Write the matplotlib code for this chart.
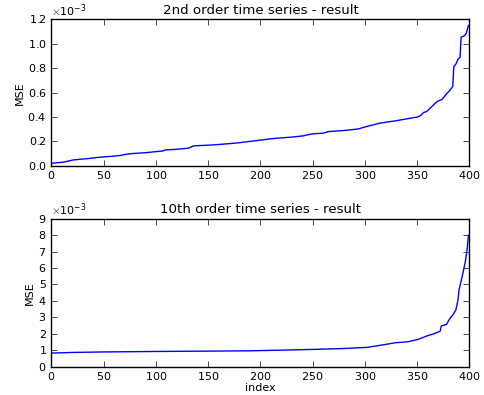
import matplotlib
matplotlib.use("Agg")
import matplotlib.pyplot as plt

# 2nd order time series - sorted MSE (values in units of 1e-3)
idx_2nd = [0, 5, 11, 21, 35, 46, 60, 67, 70, 77, 90, 100, 106, 109, 120, 131,
           136, 155, 170, 180, 196, 212, 230, 241, 249, 260, 265, 280, 294, 299,
           308, 314, 330, 343, 350, 353, 356, 359, 364, 369, 374, 378, 381, 384,
           385, 387, 389, 391, 392, 395, 397, 398, 399]
mse_2nd = [0.022, 0.025, 0.030, 0.049, 0.060, 0.071, 0.080, 0.087, 0.093, 0.101,
           0.108, 0.117, 0.121, 0.131, 0.136, 0.145, 0.164, 0.172, 0.182, 0.190,
           0.207, 0.224, 0.236, 0.246, 0.262, 0.268, 0.281, 0.290, 0.303, 0.317,
           0.336, 0.350, 0.370, 0.390, 0.400, 0.410, 0.437, 0.445, 0.486, 0.527,
           0.546, 0.590, 0.617, 0.650, 0.813, 0.833, 0.874, 0.890, 1.054, 1.065,
           1.087, 1.120, 1.149]

# 10th order time series - sorted MSE (values in units of 1e-3)
idx_10th = [0, 20, 50, 100, 150, 190, 220, 254, 280, 302, 318, 329, 341, 351,
            359, 367, 372, 373, 378, 381, 384, 387, 389, 390, 392, 394, 396,
            397, 398, 399]
mse_10th = [0.82, 0.86, 0.89, 0.92, 0.94, 0.96, 1.00, 1.05, 1.10, 1.17, 1.33,
            1.45, 1.51, 1.66, 1.86, 2.02, 2.16, 2.47, 2.57, 2.90, 3.14, 3.45,
            4.05, 4.66, 5.21, 5.78, 6.39, 6.80, 7.30, 8.00]

plt.style.use("classic")
plt.rcParams["font.family"] = "DejaVu Sans"
plt.rcParams["font.size"] = 8
plt.rcParams["axes.titlesize"] = 9.6
plt.rcParams["axes.formatter.use_mathtext"] = True
plt.rcParams["axes.formatter.limits"] = (-2, 4)
plt.rcParams["xtick.major.pad"] = 2.5
plt.rcParams["ytick.major.pad"] = 3.5

fig = plt.figure(figsize=(4.85, 3.95), dpi=100, facecolor="white")

ax1 = fig.add_axes([0.106, 0.580, 0.862, 0.371])
ax1.plot(idx_2nd, [v * 1e-3 for v in mse_2nd], color="blue", linewidth=1)
ax1.set_xlim(0, 400)
ax1.set_ylim(0, 1.2e-3)
ax1.set_title("2nd order time series - result", pad=4)
ax1.set_ylabel("MSE", labelpad=2)

ax2 = fig.add_axes([0.106, 0.072, 0.862, 0.374])
ax2.plot(idx_10th, [v * 1e-3 for v in mse_10th], color="blue", linewidth=1)
ax2.set_xlim(0, 400)
ax2.set_ylim(0, 9e-3)
ax2.set_title("10th order time series - result", pad=4)
ax2.set_ylabel("MSE", labelpad=2)
ax2.set_xlabel("index", labelpad=1)

for ax in (ax1, ax2):
    ax.set_facecolor("white")

fig.savefig("out.png", dpi=100, facecolor="white")
